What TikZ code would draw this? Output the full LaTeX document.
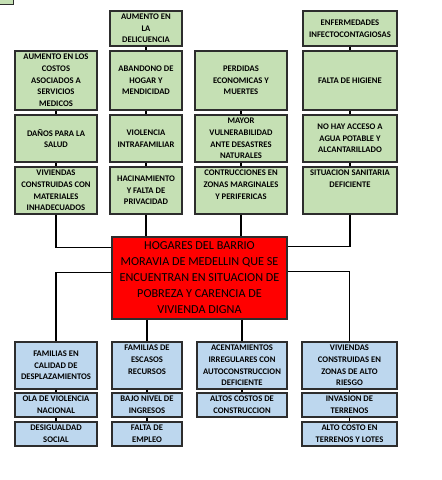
\documentclass[tikz,border=0pt]{standalone}
\usepackage{fontspec}
\setmainfont{Carlito}
\definecolor{efgreen}{RGB}{197,224,180}
\definecolor{cablue}{RGB}{189,215,238}
\definecolor{pbred}{RGB}{255,0,0}
\definecolor{boxline}{RGB}{45,45,45}
\usetikzlibrary{positioning}

\begin{document}
\begin{tikzpicture}[x=1pt, y=-1pt,
  ef/.style={draw=boxline, fill=efgreen, line width=1.1pt, align=center, inner sep=1pt,
    font=\fontsize{8.6}{11.7}\selectfont\bfseries, text=black},
  ca/.style={ef, fill=cablue},
  pb/.style={draw=boxline, fill=pbred, line width=1.1pt, align=center, inner sep=1pt,
    font=\fontsize{12.2}{16}\selectfont, text=black},
  ln/.style={line width=1.1pt, black},
]
  \useasboundingbox[fill=white] (0,0) rectangle (442,480);
  \node[ef, minimum width=30pt, minimum height=12pt, anchor=south east] (frag) at (14,5) {};

  % efectos
  \node[ef, minimum width=72pt, minimum height=35pt] (g20) at (146,28.5) {AUMENTO EN\\LA\\DELICUENCIA};
  \node[ef, minimum width=94pt, minimum height=35pt] (g40) at (350,28.5) {ENFERMEDADES\\INFECTOCONTAGIOSAS};

  \node[ef, minimum width=82pt, minimum height=59pt] (g11) at (56,80.5) {AUMENTO EN LOS\\COSTOS\\ASOCIADOS A\\SERVICIOS\\MEDICOS};
  \node[ef, minimum width=72pt, minimum height=59pt] (g21) at (146,80.5) {ABANDONO DE\\HOGAR Y\\MENDICIDAD};
  \node[ef, minimum width=92pt, minimum height=59pt] (g31) at (241,80.5) {PERDIDAS\\ECONOMICAS Y\\MUERTES};
  \node[ef, minimum width=94pt, minimum height=59pt] (g41) at (350,80.5) {FALTA DE HIGIENE};

  \node[ef, minimum width=82pt, minimum height=47pt] (g12) at (56,138.5) {DAÑOS PARA LA\\SALUD};
  \node[ef, minimum width=72pt, minimum height=47pt] (g22) at (146,138.5) {VIOLENCIA\\INTRAFAMILIAR};
  \node[ef, minimum width=92pt, minimum height=47pt] (g32) at (241,138.5) {MAYOR\\VULNERABILIDAD\\ANTE DESASTRES\\NATURALES};
  \node[ef, minimum width=94pt, minimum height=47pt] (g42) at (350,138.5) {NO HAY ACCESO A\\AGUA POTABLE Y\\ALCANTARILLADO};

  \node[ef, minimum width=82pt, minimum height=47pt] (g13) at (56,190.5) {VIVIENDAS\\CONSTRUIDAS CON\\MATERIALES\\INHADECUADOS};
  \node[ef, minimum width=72pt, minimum height=47pt] (g23) at (146,190.5) {HACINAMIENTO\\Y FALTA DE\\PRIVACIDAD};
  \node[ef, minimum width=92pt, minimum height=47pt] (g33) at (241,190.5) {CONTRUCCIONES EN\\ZONAS MARGINALES\\Y PERIFERICAS\\~};
  \node[ef, minimum width=94pt, minimum height=47pt] (g43) at (350,190.5) {SITUACION SANITARIA\\DEFICIENTE\\~\\~};

  % problema central
  \node[pb, minimum width=175pt, minimum height=82pt] (core) at (199.5,278)
    {HOGARES DEL BARRIO\\MORAVIA DE MEDELLIN QUE SE\\ENCUENTRAN EN SITUACION DE\\POBREZA Y CARENCIA DE\\VIVIENDA DIGNA};

  % causas
  \node[ca, minimum width=82pt, minimum height=47pt] (b11) at (56,365.5) {FAMILIAS EN\\CALIDAD DE\\DESPLAZAMIENTOS};
  \node[ca, minimum width=70pt, minimum height=47pt] (b21) at (147,365.5) {FAMILIAS DE\\ESCASOS\\RECURSOS\\~};
  \node[ca, minimum width=90pt, minimum height=47pt] (b31) at (242,365.5) {ACENTAMIENTOS\\IRREGULARES CON\\AUTOCONSTRUCCION\\DEFICIENTE};
  \node[ca, minimum width=95pt, minimum height=47pt] (b41) at (349.5,365.5) {VIVIENDAS\\CONSTRUIDAS EN\\ZONAS DE ALTO\\RIESGO};

  \node[ca, minimum width=82pt, minimum height=24pt] (b12) at (56,405) {OLA DE VIOLENCIA\\NACIONAL};
  \node[ca, minimum width=70pt, minimum height=24pt] (b22) at (147,405) {BAJO NIVEL DE\\INGRESOS};
  \node[ca, minimum width=90pt, minimum height=24pt] (b32) at (242,405) {ALTOS COSTOS DE\\CONSTRUCCION};
  \node[ca, minimum width=95pt, minimum height=24pt] (b42) at (349.5,405) {INVASION DE\\TERRENOS};

  \node[ca, minimum width=82pt, minimum height=24pt] (b13) at (56,434) {DESIGUALDAD\\SOCIAL};
  \node[ca, minimum width=70pt, minimum height=24pt] (b23) at (147,434) {FALTA DE\\EMPLEO};
  \node[ca, minimum width=95pt, minimum height=24pt] (b43) at (349.5,434) {ALTO COSTO EN\\TERRENOS Y LOTES};

  % conectores
  \draw[ln] (g11) -- (g12) (g12) -- (g13);
  \draw[ln] (g20) -- (g21) (g21) -- (g22) (g22) -- (g23);
  \draw[ln] (g31) -- (g32) (g32) -- (g33);
  \draw[ln] (g40) -- (g41) (g41) -- (g42) (g42) -- (g43);
  \draw[ln] (b11) -- (b12) (b12) -- (b13);
  \draw[ln] (b21) -- (b22) (b22) -- (b23);
  \draw[ln] (b31) -- (b32);
  \draw[ln] (b41) -- (b42) (b42) -- (b43);

  \draw[ln] (g13.south) |- ([yshift=-11pt]core.north west);
  \draw[ln] (g23.south) -- (g23.south |- core.north);
  \draw[ln] (g33.south) -- (g33.south |- core.north);
  \draw[ln] (g43.south) |- ([yshift=-10pt]core.north east);
  \draw[ln] ([yshift=-36pt]core.north west) -| (b11.north);
  \draw[ln] ([yshift=-35pt]core.north east) -| (b41.north);
  \draw[ln] (b21.north |- core.south) -- (b21.north);
  \draw[ln] (b31.north |- core.south) -- (b31.north);
\end{tikzpicture}
\end{document}
